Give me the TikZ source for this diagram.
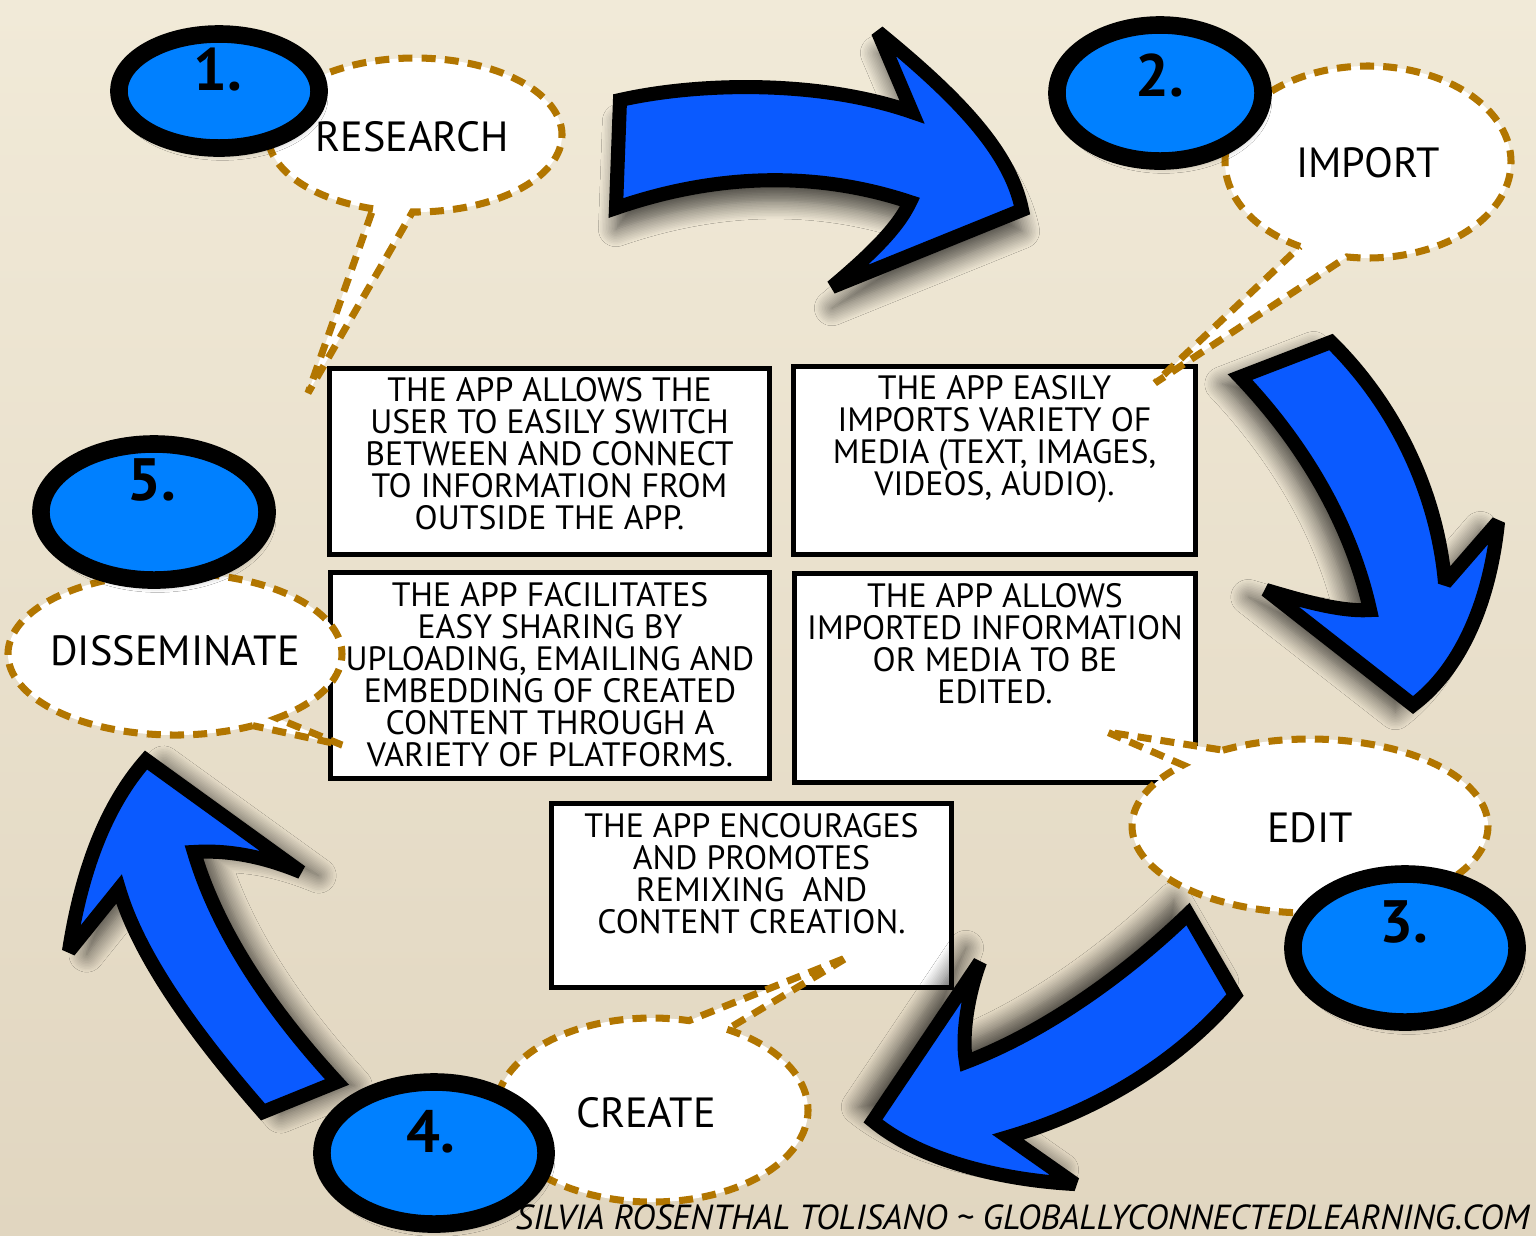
\documentclass[tikz,border=0pt]{standalone}
\usepackage{fontspec}
\setmainfont{PT Sans}
\usetikzlibrary{positioning,shapes.geometric,shadows.blur}

\definecolor{bgtop}{RGB}{241,234,216}
\definecolor{bgbottom}{RGB}{225,214,192}
\definecolor{badgeblue}{RGB}{0,128,255}
\definecolor{arrowblue}{RGB}{10,90,255}
\definecolor{dashbrown}{RGB}{178,118,0}

% speech bubble: centre, x radius, y radius, start angle, end angle, tip
\newcommand\speechbubble[6]{%
  \filldraw[bubble] (#1) ++(#4:#2 and #3)
    arc[start angle=#4, end angle=#5, x radius=#2, y radius=#3]
    -- (#6) -- cycle;}

\begin{document}
\begin{tikzpicture}[x=0.01cm,y=-0.01cm,
  panel/.style={draw, line width=1.4pt, fill=white, inner sep=0pt},
  paneltext/.style={align=center, inner sep=0pt, font=\fontsize{9.6}{9.1}\selectfont},
  bubble/.style={fill=white, draw=dashbrown, line width=2pt, dash pattern=on 4pt off 2.6pt},
  bubbletext/.style={inner sep=0pt, font=\fontsize{12}{14}\selectfont},
  badge/.style={ellipse, draw=black, line width=5pt, fill=badgeblue, inner sep=0pt,
    blur shadow={shadow xshift=1pt, shadow yshift=-2pt, shadow opacity=30, shadow blur radius=1.5pt}},
  badgenum/.style={inner sep=0pt, font=\fontsize{17}{20}\selectfont\bfseries},
  bigarrow/.style={fill=arrowblue, draw=black, line width=4pt, line join=miter, miter limit=2.5},
  arrowshadow/.style 2 args={blur shadow={shadow xshift=#1, shadow yshift=#2, shadow blur radius=5pt, shadow blur steps=12, shadow opacity=70}},
]

%BACKGROUND
\shade[top color=bgtop, bottom color=bgbottom] (0,0) rectangle (1536,1235);
\useasboundingbox (0,0) rectangle (1536,1235);

%PANELS
\node[panel, minimum width=4.40cm, minimum height=1.86cm] (boxA) at (549.5,461.5) {};
\node[paneltext, below=0.11cm of boxA.north] (txtA) {THE APP ALLOWS THE\\USER TO EASILY SWITCH\\BETWEEN AND CONNECT\\TO INFORMATION FROM\\OUTSIDE THE APP.};

\node[panel, minimum width=4.02cm, minimum height=1.88cm] (boxB) at (994.5,460.5) {};
\node[paneltext, below=0.11cm of boxB.north] (txtB) {THE APP EASILY\\IMPORTS VARIETY OF\\MEDIA (TEXT, IMAGES,\\VIDEOS, AUDIO).};

\node[panel, minimum width=4.39cm, minimum height=2.06cm] (boxC) at (550,675.5) {};
\node[paneltext, below=0.115cm of boxC.north] (txtC) {THE APP FACILITATES\\EASY SHARING BY\\UPLOADING, EMAILING AND\\EMBEDDING OF CREATED\\CONTENT THROUGH A\\VARIETY OF PLATFORMS.};

\node[panel, minimum width=4.01cm, minimum height=2.09cm] (boxD) at (995,678) {};
\node[paneltext, below=0.115cm of boxD.north] (txtD) {THE APP ALLOWS\\IMPORTED INFORMATION\\OR MEDIA TO BE\\EDITED.};

\node[panel, minimum width=4.00cm, minimum height=1.84cm] (boxE) at (751.5,895.5) {};
\node[paneltext, below=0.115cm of boxE.north] (txtE) {THE APP ENCOURAGES\\AND PROMOTES\\REMIXING\ \ AND\\CONTENT CREATION.};

%ARROWS
% top arrow
\filldraw[bigarrow, arrowshadow={0pt}{-6pt}]
  (620,100) .. controls (700,82) and (820,80) .. (912,112) -- (878,32)
  .. controls (955,95) and (1010,150) .. (1022,210) -- (832,287)
  .. controls (870,255) and (898,228) .. (910,202)
  .. controls (820,172) and (720,172) .. (616,208) -- cycle;
% right arrow
\filldraw[bigarrow, arrowshadow={-5pt}{-2pt}]
  (1240,377) -- (1331,342)
  .. controls (1400,410) and (1438,500) .. (1445,583) -- (1498,522)
  .. controls (1490,600) and (1462,668) .. (1413,705) -- (1266,590)
  .. controls (1300,600) and (1340,612) .. (1370,610)
  .. controls (1350,520) and (1300,440) .. cycle;
% bottom arrow
\filldraw[bigarrow, arrowshadow={-4pt}{4pt}]
  (1188,914) -- (1235,995)
  .. controls (1180,1060) and (1100,1110) .. (1008,1137) -- (1075,1184)
  .. controls (1000,1180) and (920,1160) .. (873,1121) -- (980,962)
  .. controls (966,1000) and (962,1040) .. (966,1062)
  .. controls (1050,1030) and (1130,970) .. cycle;
% left arrow
\filldraw[bigarrow, arrowshadow={5pt}{-1pt}]
  (337,1082) -- (263,1112)
  .. controls (200,1040) and (140,960) .. (119,889) -- (69,951)
  .. controls (80,880) and (102,810) .. (146,760) -- (301,872)
  .. controls (260,855) and (225,850) .. (194,852)
  .. controls (220,940) and (280,1020) .. cycle;

%BUBBLES
\speechbubble{415,135}{147}{77}{106.6}{451}{308,393}
\node[bubbletext] (research) at (412,137) {RESEARCH};
\speechbubble{1368,162}{143}{96}{118.4}{458.5}{1155,383}
\node[bubbletext] (import) at (1368,163) {IMPORT};
\speechbubble{1310,826}{178}{87}{240.7}{584.5}{1107,732}
\node[bubbletext] (edit) at (1310,828) {EDIT};
\speechbubble{652,1110}{156}{92}{298.8}{643.7}{848,957}
\node[bubbletext] (create) at (646,1113) {CREATE};
\speechbubble{175,654}{167}{81}{62.2}{412.4}{342,745}
\node[bubbletext] (disseminate) at (175,651) {DISSEMINATE};

%BADGES
\node[badge, minimum width=2.00cm, minimum height=1.14cm] (badge1) at (219,91) {};
\node[badgenum] (num1) at (218,70) {1.};
\node[badge, minimum width=2.06cm, minimum height=1.36cm] (badge2) at (1160,93) {};
\node[badgenum] (num2) at (1160,75) {2.};
\node[badge, minimum width=2.24cm, minimum height=1.48cm] (badge3) at (1405,948) {};
\node[badgenum] (num3) at (1404,922) {3.};
\node[badge, minimum width=2.24cm, minimum height=1.42cm] (badge4) at (434,1153) {};
\node[badgenum] (num4) at (431,1132) {4.};
\node[badge, minimum width=2.26cm, minimum height=1.36cm] (badge5) at (154,512) {};
\node[badgenum] (num5) at (152,480) {5.};

%CREDIT
\node[anchor=base west, inner sep=0pt, font=\fontsize{9.9}{11}\selectfont\itshape] (credit) at (515,1229)
  {SILVIA ROSENTHAL TOLISANO \textasciitilde{} GLOBALLYCONNECTEDLEARNING.COM};

\end{tikzpicture}
\end{document}
